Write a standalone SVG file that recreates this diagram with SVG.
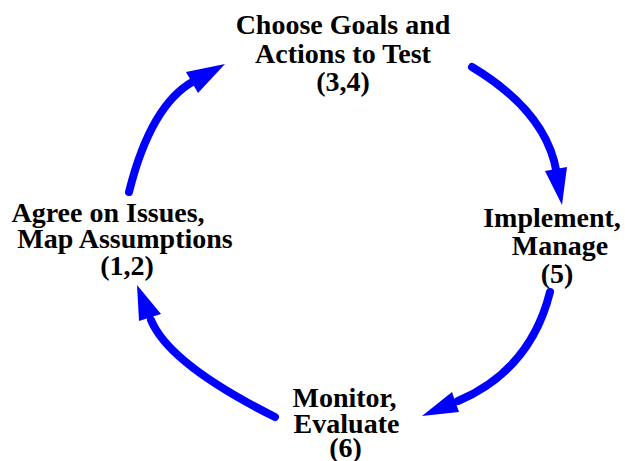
<svg xmlns="http://www.w3.org/2000/svg" width="625" height="461" viewBox="0 0 625 461">
<style>
.lbl{font-family:"Liberation Serif","Times New Roman",serif;font-weight:bold;font-size:28px;fill:#000;text-anchor:middle}
.shaft{fill:none;stroke:#0000FF;stroke-width:8;stroke-linecap:round}
.head{fill:#0000FF;stroke:none}
</style>
<rect width="625" height="461" fill="#fff"/>
<g id="connectors">
<path class="shaft" d="M129,192 Q150.9,104.4 194,81"/>
<polygon class="head" points="225,64 186,72 198,93"/>
<path class="shaft" d="M472,67 Q546.4,111.7 556.5,172"/>
<polygon class="head" points="562,205 545,171 567,167"/>
<path class="shaft" d="M550,292 Q530.5,370 458,401"/>
<polygon class="head" points="422,416 452,392 459,412"/>
<path class="shaft" d="M275,417 Q169.1,364 151,320"/>
<polygon class="head" points="137,285 139,321 161,314"/>
</g>
<g id="node-choose">
<text class="lbl" x="343" y="34">Choose Goals and</text>
<text class="lbl" x="343" y="63">Actions to Test</text>
<text class="lbl" x="343" y="91">(3,4)</text>
</g>
<g id="node-implement">
<text class="lbl" x="552" y="227">Implement,</text>
<text class="lbl" x="560" y="255">Manage</text>
<text class="lbl" x="557" y="283">(5)</text>
</g>
<g id="node-monitor">
<text class="lbl" x="344.5" y="407">Monitor,</text>
<text class="lbl" x="346.5" y="433">Evaluate</text>
<text class="lbl" x="345.5" y="457">(6)</text>
</g>
<g id="node-agree">
<text class="lbl" x="108" y="222">Agree on Issues,</text>
<text class="lbl" x="125" y="248">Map Assumptions</text>
<text class="lbl" x="127" y="275">(1,2)</text>
</g>
</svg>
